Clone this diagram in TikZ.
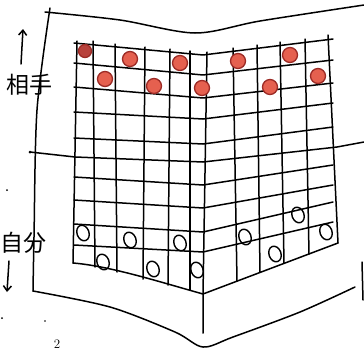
\documentclass[tikz,border=0pt]{standalone}
\usepackage{fontspec}
\newfontfamily\jpfont{Noto Sans CJK JP}
\usetikzlibrary{shapes.geometric,arrows.meta}
\definecolor{redfill}{HTML}{E5604F}
\definecolor{redrim}{HTML}{9C2B26}
\definecolor{darkfill}{HTML}{B8423C}

\begin{document}
\begin{tikzpicture}[x=1pt, y=-1pt, line cap=round, line join=round,
  pen/.style={line width=1.5pt},
  redpiece/.style={circle, draw=redrim, fill=redfill, line width=1.3pt, minimum size=15pt, inner sep=0pt},
  whitepiece/.style={ellipse, draw, line width=1.4pt, minimum width=12pt, minimum height=16pt, inner sep=0pt, rotate=20},
  tag/.style={font=\jpfont\fontsize{23}{23}\selectfont, inner sep=0pt},
  arr/.style={pen, -{Straight Barb[length=5pt,width=8pt]}}]
  \useasboundingbox (0,0) rectangle (364,351);
  \clip (0,0) rectangle (364,351);

  % --- Page (folded sheet) ---
  \draw[pen] plot[smooth] coordinates {(45,12) (120,20) (195,33) (260,21) (364,5)};
  \draw[pen] plot[smooth] coordinates {(50,8) (37,110) (34,237) (33,291)};
  \draw[pen] plot[smooth] coordinates {(33,291) (110,307) (175,332) (203,347) (233,337) (300,312) (355,287)};
  \draw[pen] (362,262) -- (363,300);

  % --- Board rows (left y / middle y / right y) ---
  \foreach \l/\m/\r in {43/55/39, 63/75/60, 87/98/83, 112/119/103, 138/144/127,
                        177/185/165, 200/208/185, 224/232/202, 245/252/222}
    \draw[pen] (74,\l) -- (203,\m) -- (333,\r);
  % row that runs across the page
  \draw[pen] (30,152) -- (75,157) -- (203,162) -- (337,147) -- (364,142);
  \fill (30,152) circle (1.5pt);
  % lower edge of the board
  \draw[pen] (73,263) .. controls (110,266) and (160,282) .. (203,294) -- (338,243);

  % --- Board columns (top x / top y / bottom x / bottom y) ---
  \foreach \xt/\yt/\xb/\yb in {77/41/73/263, 93/41/95/267, 115/44/117/272, 145/47/143/279,
                               170/49/168/285, 190/51/190/290, 233/48/237/281, 257/45/260/272,
                               280/42/284/263, 305/39/309/254, 328/35/338/243}
    \draw[pen] (\xt,\yt) -- (\xb,\yb);
  % fold line
  \draw[pen] (207,52) -- (203,294) -- (203,333);

  % --- Opponent pieces ---
  \node[redpiece, fill=darkfill, minimum size=13pt] (r1) at (85,51) {};
  \foreach \p [count=\i from 2] in {(130,59), (180,63), (238,61), (290,55),
                                    (105,79), (154,86), (202,88), (270,87), (318,76)}
    \node[redpiece] (r\i) at \p {};

  % --- Own pieces ---
  \foreach \p [count=\i] in {(83,233), (130,240), (180,243), (245,237), (298,215),
                             (326,232), (103,262), (153,269), (197,270), (275,254)}
    \node[whitepiece] (w\i) at \p {};

  % --- Labels ---
  \node[tag] (opp) at (29,85) {相手};
  \coordinate (uptail) at (21,64);
  \coordinate (uptip) at (23,29);
  \draw[arr] (uptail) -- (uptip);

  \node[tag] (self) at (23,243) {自分};
  \coordinate (downtail) at (9,261);
  \coordinate (downtip) at (7,292);
  \draw[arr] (downtail) -- (downtip);

  \node[font=\fontsize{13}{13}\selectfont, anchor=south, inner sep=0pt] (pg) at (57,349) {2};

  % stray marks
  \fill (7,190) circle (1pt);
  \fill (45,321) circle (0.8pt);
  \fill (2,318) circle (1pt);
\end{tikzpicture}
\end{document}
